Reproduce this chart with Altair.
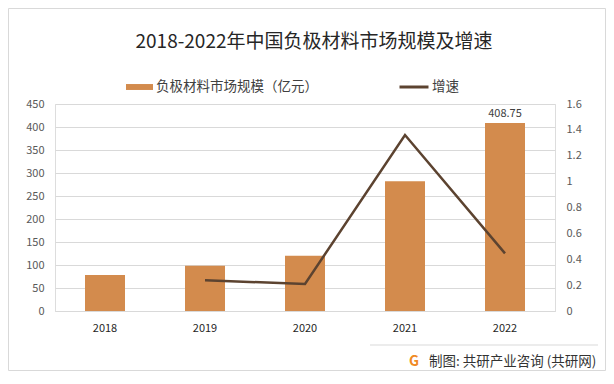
import altair as alt
import pandas as pd

years = ["2018", "2019", "2020", "2021", "2022"]
market = [78, 98.5, 120, 282, 408.75]
growth_years = ["2019", "2020", "2021", "2022"]
growth = [0.237, 0.209, 1.36, 0.445]
left_ticks = [0, 50, 100, 150, 200, 250, 300, 350, 400, 450]
right_ticks = [0, 0.2, 0.4, 0.6, 0.8, 1.0, 1.2, 1.4, 1.6]
title_text = "2018-2022年中国负极材料市场规模及增速"
bar_name = "负极材料市场规模（亿元）"
line_name = "增速"
footer_text = "制图: 共研产业咨询 (共研网)"

FONT = "Noto Sans CJK SC"
BAR = "#D38B4D"
LINE = "#5C4330"

bar_df = pd.DataFrame({"year": years, "value": market, "s": [bar_name] * len(years)})
line_df = pd.DataFrame({"year": growth_years, "g": growth, "s": [line_name] * len(growth_years)})
label_df = bar_df[bar_df["year"] == "2022"].assign(lab=["408.75"])

xenc = alt.X("year:N", sort=years,
             scale=alt.Scale(domain=years, paddingInner=0.6, paddingOuter=0.3),
             axis=alt.Axis(title=None, labelAngle=0, labelFontSize=11, labelColor="#262626",
                           labelPadding=11, domainColor="#D9D9D9", ticks=False, labelFont=FONT))
yleft = alt.Y("value:Q", scale=alt.Scale(domain=[0, 450]),
              axis=alt.Axis(title=None, values=left_ticks, grid=True, gridColor="#D9D9D9",
                            domain=False, ticks=False, labelPadding=11, labelFontSize=11,
                            labelColor="#595959", labelFont=FONT, labelOverlap=False))

bars = alt.Chart(bar_df).mark_bar(size=40).encode(
    x=xenc,
    y=yleft,
    color=alt.Color("s:N", scale=alt.Scale(range=[BAR]),
                    legend=alt.Legend(title=None, orient="none", legendX=70, legendY=-31.5,
                                      symbolType="M-1,-0.22L1,-0.22L1,0.22L-1,0.22Z",
                                      symbolSize=729, symbolOpacity=1, labelOffset=2,
                                      labelLimit=400,
                                      labelFontSize=13.5, labelFont=FONT, labelColor="#404040")),
)
label = alt.Chart(label_df).mark_text(dy=-9, fontSize=11, font=FONT, color="#404040").encode(
    x=xenc, y=yleft, text="lab:N")

left = alt.layer(bars, label)

line = alt.Chart(line_df).mark_line(strokeWidth=2.5).encode(
    x=xenc,
    y=alt.Y("g:Q", scale=alt.Scale(domain=[0, 1.6]),
            axis=alt.Axis(title=None, orient="right", values=right_ticks, format="~g",
                          grid=False, domain=False, ticks=False, labelPadding=11,
                          labelFontSize=11, labelColor="#595959", labelFont=FONT,
                          labelOverlap=False)),
    stroke=alt.Stroke("s:N", scale=alt.Scale(range=[LINE]),
                      legend=alt.Legend(title=None, orient="none", legendX=343, legendY=-33,
                                        symbolType="stroke", symbolStrokeWidth=3, symbolSize=841,
                                        labelOffset=2, labelLimit=400,
                                        labelFontSize=13.5, labelFont=FONT, labelColor="#404040")),
)

deco_df = pd.DataFrame({"t": [footer_text]})
title = alt.Chart(pd.DataFrame({"t": [title_text]})).mark_text(
    align="center", baseline="middle", fontSize=19, font=FONT, color="#262626").encode(
    x=alt.value(259), y=alt.value(-62), text="t:N")
footer = alt.Chart(deco_df).mark_text(align="left", baseline="middle", fontSize=13.5,
                                      font=FONT, color="#333333").encode(
    x=alt.value(374), y=alt.value(258), text="t:N")
icon = alt.Chart(pd.DataFrame({"t": ["G"]})).mark_text(align="center", baseline="middle",
                                                      fontSize=14, fontWeight="bold",
                                                      font=FONT, color="#F08A24").encode(
    x=alt.value(359), y=alt.value(258), text="t:N")
sep = alt.Chart(deco_df).mark_rule(color="#D9D9D9", strokeWidth=1).encode(
    x=alt.value(315), x2=alt.value(543), y=alt.value(241))
border = alt.Chart(deco_df).mark_rect(fill=None, stroke="#D9D9D9", strokeWidth=1).encode(
    x=alt.value(-46.5), x2=alt.value(550.5), y=alt.value(-95.5), y2=alt.value(266.5))

chart = alt.layer(left, line, title, sep, footer, icon, border).resolve_scale(y="independent").properties(
    width=500, height=207,
    autosize=alt.AutoSizeParams(type="none"),
    padding={"left": 47, "top": 96, "right": 51, "bottom": 62},
).configure_view(stroke=None).configure(background="white")

chart.save("out.html", embed_options={"renderer": "svg", "actions": False})
